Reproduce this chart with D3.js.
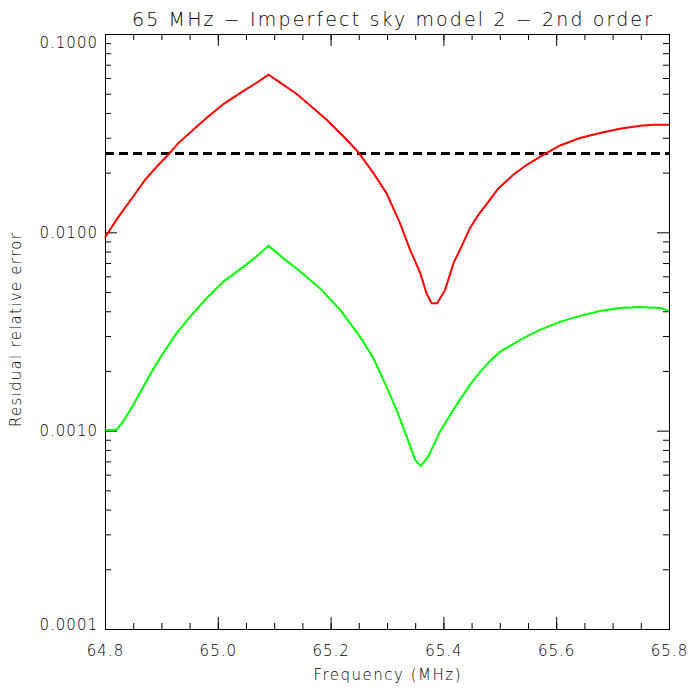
<!DOCTYPE html>
<html lang="en">
<head>
<meta charset="utf-8" />
<script src="https://cdnjs.cloudflare.com/ajax/libs/d3/7.8.5/d3.min.js"></script>
<style>
    body { margin: 0; background: #fff; }
    text { font-family: "DejaVu Sans", sans-serif; font-weight: 200; fill: #000; }
</style>
<title>65 MHz residual error</title>
</head>
<body>
<div id="chart"></div>
<script>

// red curve
const freqRed = [64.800, 64.821, 64.850, 64.871, 64.892, 64.912, 64.930, 64.963, 64.980, 65.010,
    65.045, 65.069, 65.090, 65.110, 65.140, 65.169, 65.193, 65.223, 65.248, 65.276,
    65.299, 65.323, 65.341, 65.359, 65.370, 65.379, 65.389, 65.403, 65.418, 65.432,
    65.447, 65.462, 65.480, 65.497, 65.524, 65.548, 65.577, 65.607, 65.642, 65.678,
    65.713, 65.749, 65.772, 65.800];
const errRed = [0.00941, 0.01166, 0.01516, 0.0184, 0.02148, 0.0246, 0.02818, 0.03418, 0.03769, 0.04434,
    0.0515, 0.0568, 0.06231, 0.05698, 0.0498, 0.04232, 0.03694, 0.03043, 0.02557, 0.01989,
    0.01577, 0.01113, 0.008157, 0.006224, 0.004933, 0.004393, 0.004393, 0.005126, 0.006992, 0.008478,
    0.0105, 0.01226, 0.0143, 0.01658, 0.0195, 0.0219, 0.0246, 0.02741, 0.02987, 0.03166,
    0.03329, 0.03446, 0.03487, 0.03487];

// green curve
const freqGreen = [64.800, 64.820, 64.832, 64.850, 64.868, 64.883, 64.901, 64.927, 64.951, 64.980,
    65.010, 65.034, 65.063, 65.090, 65.116, 65.146, 65.181, 65.217, 65.252, 65.276,
    65.299, 65.317, 65.335, 65.350, 65.360, 65.373, 65.394, 65.412, 65.429, 65.447,
    65.465, 65.483, 65.500, 65.536, 65.571, 65.607, 65.642, 65.678, 65.713, 65.749,
    65.784, 65.800];
const errGreen = [0.001008, 0.001008, 0.00111, 0.001348, 0.001667, 0.001985, 0.002409, 0.0031, 0.00376, 0.004656,
    0.005646, 0.006341, 0.007324, 0.008546, 0.00741, 0.006341, 0.005231, 0.004064, 0.00298, 0.002318,
    0.001667, 0.001272, 0.000933, 0.000712, 0.000664, 0.000739, 0.000989, 0.0012, 0.001429, 0.0017,
    0.001978, 0.002247, 0.002495, 0.002868, 0.003223, 0.003535, 0.003791, 0.004016, 0.004158, 0.004207,
    0.004158, 0.004016];

const threshold = 0.025;

const xTicks = [64.8, 65.0, 65.2, 65.4, 65.6, 65.8];
const yTicks = [0.1, 0.01, 0.001, 0.0001];

const width = 564;
const height = 595;
const margin = { top: 34, bottom: 71, left: 105, right: 31 };

const svg = d3
    .select('#chart')
    .append('svg')
    .attr('width', width + margin.left + margin.right)
    .attr('height', height + margin.top + margin.bottom);

const g = svg.append('g')
    .attr('transform', `translate(${margin.left}, ${margin.top})`);

const x = d3.scaleLinear().domain([64.8, 65.8]).range([0, width]);
const y = d3.scaleLog().domain([0.0001, 0.1]).range([height, 0]);

// minor ticks
const xMinor = d3.range(0, 21).map((i) => 64.8 + i * 0.05);
const yMinor = [];
[-4, -3, -2].forEach((e) => {
    for (let k = 2; k <= 9; k++) yMinor.push(k * Math.pow(10, e));
});

const noLabel = () => '';

function tidy(sel) {
    sel.select('.domain').remove();
    sel.selectAll('line').attr('stroke', '#000');
}

// bottom
g.append('g').attr('transform', `translate(0,${height})`)
    .call(d3.axisBottom(x).tickValues(xMinor).tickSize(-6).tickFormat(noLabel)).call(tidy);
g.append('g').attr('transform', `translate(0,${height})`)
    .call(d3.axisBottom(x).tickValues(xTicks).tickSize(-12).tickPadding(16).tickFormat(d3.format('.1f')))
    .call(tidy);
// top
g.append('g').call(d3.axisTop(x).tickValues(xMinor).tickSize(-6).tickFormat(noLabel)).call(tidy);
g.append('g').call(d3.axisTop(x).tickValues(xTicks).tickSize(-12).tickFormat(noLabel)).call(tidy);
// left
g.append('g').call(d3.axisLeft(y).tickValues(yMinor).tickSize(-6).tickFormat(noLabel)).call(tidy);
const yAxis = g.append('g').attr('id', 'yAxis')
    .call(d3.axisLeft(y).tickValues(yTicks).tickSize(-12).tickPadding(7).tickFormat(d3.format('.4f')))
    .call(tidy);
// right
g.append('g').attr('transform', `translate(${width},0)`)
    .call(d3.axisRight(y).tickValues(yMinor).tickSize(-6).tickFormat(noLabel)).call(tidy);
g.append('g').attr('transform', `translate(${width},0)`)
    .call(d3.axisRight(y).tickValues(yTicks).tickSize(-12).tickFormat(noLabel)).call(tidy);

g.selectAll('.tick text')
    .style('font-family', '"DejaVu Sans", sans-serif')
    .style('font-weight', 200)
    .style('font-size', '15px')
    .style('letter-spacing', '1px');

// top label sits inside, bottom label on its baseline
yAxis.selectAll('.tick text').attr('dy', (d) => (d === 0.1 ? '0.9em' : d === 0.0001 ? '0em' : '0.32em'));

// frame
g.append('rect')
    .attr('x', 0.5).attr('y', 0.5)
    .attr('width', width).attr('height', height)
    .attr('fill', 'none').attr('stroke', '#000').attr('stroke-width', 1);

// threshold
g.append('path')
    .datum(x.domain())
    .attr('d', d3.line().x((d) => x(d)).y(() => y(threshold)))
    .attr('stroke', '#000')
    .attr('stroke-width', 3)
    .attr('stroke-dasharray', '9,5')
    .attr('fill', 'none');

const line = d3.line().x((d) => x(d[0])).y((d) => y(d[1]));

g.append('path')
    .datum(d3.zip(freqRed, errRed))
    .attr('d', line)
    .attr('stroke', '#ff0000')
    .attr('stroke-width', 2)
    .attr('fill', 'none');

g.append('path')
    .datum(d3.zip(freqGreen, errGreen))
    .attr('d', line)
    .attr('stroke', '#00ff00')
    .attr('stroke-width', 2)
    .attr('fill', 'none');

// titles
svg.append('text')
    .attr('x', 392).attr('y', 26)
    .attr('text-anchor', 'middle')
    .attr('textLength', 520).attr('lengthAdjust', 'spacing')
    .style('font-size', '19px')
    .text('65 MHz − Imperfect sky model 2 − 2nd order');

svg.append('text')
    .attr('x', margin.left + width / 2).attr('y', 680)
    .attr('text-anchor', 'middle')
    .attr('textLength', 147).attr('lengthAdjust', 'spacing')
    .style('font-size', '15px')
    .text('Frequency (MHz)');

svg.append('text')
    .attr('transform', 'translate(21,330) rotate(-90)')
    .attr('text-anchor', 'middle')
    .attr('textLength', 194).attr('lengthAdjust', 'spacing')
    .style('font-size', '15px')
    .text('Residual relative error');

</script>
</body>
</html>
